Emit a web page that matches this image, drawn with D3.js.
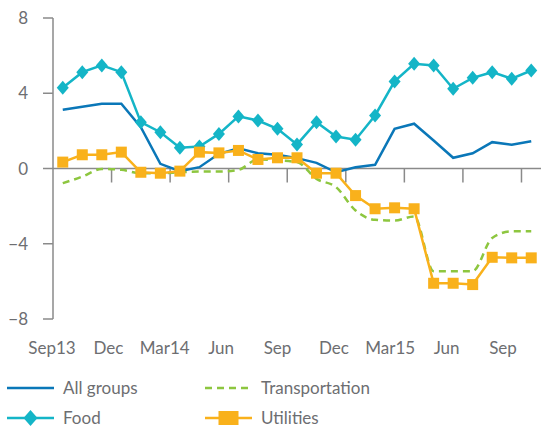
<!DOCTYPE html>
<html>
<head>
<meta charset="utf-8">
<script src="https://cdn.jsdelivr.net/npm/d3@7"></script>
<style>
  body { margin: 0; background: #fff; }
  text { font-family: Lato, "Open Sans", sans-serif; fill: #6d6e71; }
</style>
</head>
<body>
<script>
var months = ['Sep13','Oct13','Nov13','Dec13','Jan14','Feb14','Mar14','Apr14','May14','Jun14','Jul14','Aug14',
  'Sep14','Oct14','Nov14','Dec14','Jan15','Feb15','Mar15','Apr15','May15','Jun15','Jul15','Aug15','Sep15'];
var tickLabels = ['Sep13','Dec','Mar14','Jun','Sep','Dec','Mar15','Jun','Sep'];
var yTicks = [-8, -4, 0, 4, 8];

var allGroups = [3.12, 3.28, 3.44, 3.44, 2.2, 0.25, -0.14, 0.07, 0.78, 1.08, 0.81, 0.73, 0.55, 0.30, -0.20, 0.07, 0.20, 2.11, 2.38, 1.49, 0.57, 0.81, 1.40, 1.26, 1.45];
var food = [4.29, 5.12, 5.48, 5.12, 2.46, 1.93, 1.10, 1.17, 1.84, 2.77, 2.55, 2.11, 1.28, 2.46, 1.70, 1.53, 2.82, 4.63, 5.57, 5.48, 4.24, 4.82, 5.12, 4.77, 5.21];
var transport = [-0.78, -0.43, -0.02, -0.07, -0.25, -0.25, -0.2, -0.16, -0.16, -0.07, 0.48, 0.43, 0.34, -0.55, -0.99, -2.23, -2.73, -2.77, -2.55, -5.46, -5.46, -5.46, -3.69, -3.34, -3.34];
var utilities = [0.34, 0.73, 0.73, 0.87, -0.20, -0.25, -0.14, 0.87, 0.83, 0.96, 0.48, 0.57, 0.57, -0.25, -0.25, -1.44, -2.14, -2.09, -2.14, -6.10, -6.10, -6.17, -4.72, -4.75, -4.75];

var w = 541, h = 427;
var axisCol = '#8a8a8a';

var svg = d3.select('body').append('svg')
  .attr('width', w)
  .attr('height', h);

var x = d3.scaleBand().domain(months).range([53, 541]);
var y = d3.scaleLinear().domain([-8, 8]).range([319, 18]);
var labelX = d3.scalePoint().domain(d3.range(tickLabels.length)).range([52, 503]);

function cx(i) { return x(months[i]) + x.bandwidth() / 2; }

// y axis
svg.append('line')
  .attr('x1', 53).attr('x2', 53)
  .attr('y1', y(8)).attr('y2', y(-8))
  .attr('stroke', axisCol).attr('stroke-width', 1.5);

yTicks.forEach(function(t) {
  svg.append('line')
    .attr('x1', 43).attr('x2', 53)
    .attr('y1', y(t)).attr('y2', y(t))
    .attr('stroke', axisCol).attr('stroke-width', 1.5);
  svg.append('text')
    .attr('x', 28).attr('y', y(t) + 6)
    .attr('text-anchor', 'end')
    .attr('font-size', 17)
    .text(t < 0 ? '\u2212' + Math.abs(t) : t);
});

// zero line and category ticks
svg.append('line')
  .attr('x1', 53).attr('x2', 541)
  .attr('y1', y(0)).attr('y2', y(0))
  .attr('stroke', axisCol).attr('stroke-width', 1.5);

for (var i = 3; i < months.length; i += 3) {
  svg.append('line')
    .attr('x1', x(months[i])).attr('x2', x(months[i]))
    .attr('y1', y(0)).attr('y2', y(0) + 14)
    .attr('stroke', axisCol).attr('stroke-width', 1.5);
}

tickLabels.forEach(function(l, k) {
  svg.append('text')
    .attr('x', labelX(k)).attr('y', 354)
    .attr('text-anchor', 'middle')
    .attr('font-size', 17)
    .text(l);
});

// series
var line = d3.line().x(function(d, i) { return cx(i); }).y(function(d) { return y(d); });
var smooth = d3.line().x(function(d, i) { return cx(i); }).y(function(d) { return y(d); }).curve(d3.curveMonotoneX);

svg.append('path').attr('d', smooth(transport))
  .attr('fill', 'none').attr('stroke', '#8dc63f').attr('stroke-width', 2.5)
  .attr('stroke-dasharray', '7,5');

svg.append('path').attr('d', line(allGroups))
  .attr('fill', 'none').attr('stroke', '#0a77b8').attr('stroke-width', 2.5);

svg.append('path').attr('d', line(food))
  .attr('fill', 'none').attr('stroke', '#14b5c7').attr('stroke-width', 2.5);

svg.selectAll('.food').data(food).enter().append('path')
  .attr('class', 'food')
  .attr('transform', function(d, i) { return 'translate(' + cx(i) + ',' + y(d) + ')'; })
  .attr('d', 'M0,-7L6,0L0,7L-6,0Z')
  .attr('fill', '#14b5c7');

svg.append('path').attr('d', line(utilities))
  .attr('fill', 'none').attr('stroke', '#f9b11b').attr('stroke-width', 2.5);

svg.selectAll('.util').data(utilities).enter().append('rect')
  .attr('class', 'util')
  .attr('x', function(d, i) { return cx(i) - 5.5; })
  .attr('y', function(d) { return y(d) - 5.5; })
  .attr('width', 11).attr('height', 11)
  .attr('fill', '#f9b11b');

// legend
var legend = [
  { name: 'All groups', col: '#0a77b8', lx: 7, ly: 388, dash: null, mark: null },
  { name: 'Food', col: '#14b5c7', lx: 7, ly: 418, dash: null, mark: 'diamond' },
  { name: 'Transportation', col: '#8dc63f', lx: 205, ly: 388, dash: '7,5', mark: null },
  { name: 'Utilities', col: '#f9b11b', lx: 205, ly: 418, dash: null, mark: 'square' }
];

legend.forEach(function(e) {
  svg.append('line')
    .attr('x1', e.lx).attr('x2', e.lx + 47)
    .attr('y1', e.ly).attr('y2', e.ly)
    .attr('stroke', e.col).attr('stroke-width', 2.5)
    .attr('stroke-dasharray', e.dash);
  if (e.mark === 'diamond') {
    svg.append('path')
      .attr('transform', 'translate(' + (e.lx + 23.5) + ',' + e.ly + ')')
      .attr('d', 'M0,-8L7,0L0,8L-7,0Z')
      .attr('fill', e.col);
  }
  if (e.mark === 'square') {
    svg.append('rect')
      .attr('x', e.lx + 13.5).attr('y', e.ly - 7)
      .attr('width', 20).attr('height', 14)
      .attr('fill', e.col);
  }
  svg.append('text')
    .attr('x', e.lx + 56).attr('y', e.ly + 6)
    .attr('font-size', 17)
    .text(e.name);
});
</script>
</body>
</html>
